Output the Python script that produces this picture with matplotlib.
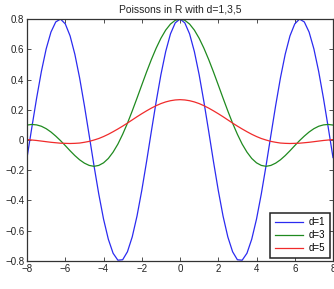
import numpy as np
import matplotlib
matplotlib.use('Agg')
import matplotlib.pyplot as plt

# sample points, step 0.25 from -8 to 8
x = np.arange(-8, 8.001, 0.25)

d1 = [-0.116, 0.083, 0.277, 0.454, 0.603, 0.714, 0.781, 0.800, 0.768, 0.689, 0.567, 0.410, 0.227, 0.030,
      -0.169, -0.357, -0.523, -0.656, -0.749, -0.795, -0.792, -0.739, -0.641, -0.503, -0.333, -0.143,
      0.057, 0.252, 0.432, 0.585, 0.702, 0.775,
      0.800,
      0.775, 0.702, 0.585, 0.432, 0.252, 0.057, -0.143, -0.333, -0.503, -0.641, -0.739, -0.792, -0.795,
      -0.749, -0.656, -0.523, -0.357, -0.169, 0.030, 0.227, 0.410, 0.567, 0.689, 0.768, 0.800, 0.781,
      0.714, 0.603, 0.454, 0.277, 0.083, -0.116]
d3 = [0.099, 0.103, 0.100, 0.091, 0.075, 0.053, 0.026, -0.004, -0.037, -0.071, -0.103, -0.131, -0.153,
      -0.168, -0.174, -0.168, -0.151, -0.122, -0.080, -0.027, 0.038, 0.111, 0.192, 0.277, 0.364, 0.450,
      0.532, 0.607, 0.673, 0.727, 0.767, 0.792,
      0.800,
      0.792, 0.767, 0.727, 0.673, 0.607, 0.532, 0.450, 0.364, 0.277, 0.192, 0.111, 0.038, -0.027, -0.080,
      -0.122, -0.151, -0.168, -0.174, -0.168, -0.153, -0.131, -0.103, -0.071, -0.037, -0.004, 0.026,
      0.053, 0.075, 0.091, 0.100, 0.103, 0.099]
d5 = [0.003, 0.000, -0.003, -0.007, -0.011, -0.015, -0.018, -0.021, -0.022, -0.023, -0.022, -0.020,
      -0.015, -0.009, -0.000, 0.010, 0.023, 0.038, 0.055, 0.073, 0.092, 0.112, 0.133, 0.154, 0.174,
      0.193, 0.211, 0.227, 0.241, 0.252, 0.260, 0.265,
      0.267,
      0.265, 0.260, 0.252, 0.241, 0.227, 0.211, 0.193, 0.174, 0.154, 0.133, 0.112, 0.092, 0.073, 0.055,
      0.038, 0.023, 0.010, -0.000, -0.009, -0.015, -0.020, -0.022, -0.023, -0.022, -0.021, -0.018,
      -0.015, -0.011, -0.007, -0.003, 0.000, 0.003]
labels = ['d=1', 'd=3', 'd=5']
colors = ['#2b2bf0', '#1f8a1f', '#f02b2b']
xticks = [-8, -6, -4, -2, 0, 2, 4, 6, 8]
yticks = [-0.8, -0.6, -0.4, -0.2, 0, 0.2, 0.4, 0.6, 0.8]

plt.rcParams['font.family'] = ['Liberation Sans', 'DejaVu Sans']
fig = plt.figure(figsize=(3.34, 2.89), dpi=100)
ax = fig.add_axes([0.081, 0.097, 0.916, 0.837])

for ys, lab, col in zip([d1, d3, d5], labels, colors):
    ax.plot(x, ys, color=col, lw=0.9, label=lab)

ax.set_xlim(-8, 8)
ax.set_ylim(-0.8, 0.8)
ax.set_xticks(xticks)
ax.set_yticks(yticks)
ax.set_xticklabels(['\u22128', '\u22126', '\u22124', '\u22122', '0', '2', '4', '6', '8'])
ax.set_yticklabels(['\u22120.8', '\u22120.6', '\u22120.4', '\u22120.2', '0', '0.2', '0.4', '0.6', '0.8'])
ax.tick_params(direction='in', length=3, width=0.6, labelsize=7, top=True, right=True, pad=2,
               color='#333333', labelcolor='#222222')
for s in ax.spines.values():
    s.set_linewidth(0.9)
    s.set_color('#333333')
ax.set_title('Poissons in R with d=1,3,5', fontsize=7.5, pad=5, color='#222222')

leg = ax.legend(loc='lower right', fontsize=7, fancybox=False, framealpha=1, edgecolor='#222222',
                handlelength=2.9, borderpad=0.45, labelspacing=0.3, handletextpad=0.6,
                borderaxespad=0.35)
leg.get_frame().set_linewidth(1.1)

fig.savefig('out.png', dpi=100)
